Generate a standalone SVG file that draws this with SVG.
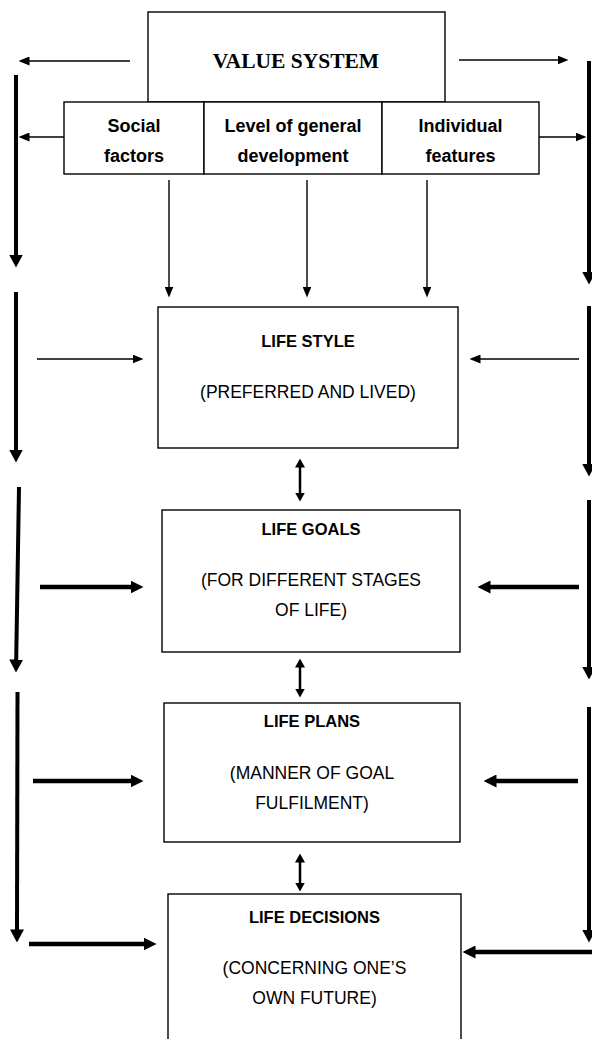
<svg xmlns="http://www.w3.org/2000/svg" width="592" height="1039" viewBox="0 0 592 1039">
<style>
.box{fill:#fff;stroke:#000;stroke-width:1.4}
.t{font-family:"Liberation Sans",Arial,sans-serif;font-size:17.5px;text-anchor:middle;fill:#000}
.b{font-weight:bold;font-size:16.5px}
.sb{font-weight:bold;font-size:18px}
.vs{font-family:"Liberation Serif","Times New Roman",serif;font-weight:bold;font-size:21.5px;text-anchor:middle}
.thin{stroke:#000;stroke-width:1.4;fill:none;marker-end:url(#ah-thin)}
.vert{stroke:#000;stroke-width:4;fill:none;marker-end:url(#ah-vert)}
.thick{stroke:#000;stroke-width:4.5;fill:none;marker-end:url(#ah-thick)}
.dbl{stroke:#000;stroke-width:2.5;fill:none;marker-start:url(#ah-dbl);marker-end:url(#ah-dbl)}
</style>
<defs>
<marker id="ah-thin" markerUnits="userSpaceOnUse" markerWidth="11" markerHeight="9" refX="0.5" refY="4.5" orient="auto"><path d="M0,0 L11,4.5 L0,9 z" fill="#000"/></marker>
<marker id="ah-vert" markerUnits="userSpaceOnUse" markerWidth="13" markerHeight="14" refX="0.5" refY="7" orient="auto"><path d="M0,0 L13,7 L0,14 z" fill="#000"/></marker>
<marker id="ah-thick" markerUnits="userSpaceOnUse" markerWidth="13" markerHeight="13" refX="0.5" refY="6.5" orient="auto"><path d="M0,0 L13,6.5 L0,13 z" fill="#000"/></marker>
<marker id="ah-dbl" markerUnits="userSpaceOnUse" markerWidth="9" markerHeight="10" refX="0.5" refY="5" orient="auto-start-reverse"><path d="M0,0 L9,5 L0,10 z" fill="#000"/></marker>
</defs>
<rect width="592" height="1039" fill="#fff"/>

<g id="value-system">
<rect class="box" x="148" y="12" width="297" height="90"/>
<text class="vs" x="296" y="68">VALUE SYSTEM</text>
</g>
<g id="social-factors">
<rect class="box" x="64" y="102" width="140" height="72"/>
<text class="t sb" x="134" y="132">Social</text>
<text class="t sb" x="134" y="162">factors</text>
</g>
<g id="general-development">
<rect class="box" x="204" y="102" width="178" height="72"/>
<text class="t sb" x="293" y="132">Level of general</text>
<text class="t sb" x="293" y="162">development</text>
</g>
<g id="individual-features">
<rect class="box" x="382" y="102" width="157" height="72"/>
<text class="t sb" x="460.5" y="132">Individual</text>
<text class="t sb" x="460.5" y="162">features</text>
</g>
<g id="life-style">
<rect class="box" x="158" y="307" width="300" height="141"/>
<text class="t b" x="308" y="347">LIFE STYLE</text>
<text class="t" x="308" y="398">(PREFERRED AND LIVED)</text>
</g>
<g id="life-goals">
<rect class="box" x="162" y="510" width="298" height="142"/>
<text class="t b" x="311" y="535">LIFE GOALS</text>
<text class="t" x="311" y="586">(FOR DIFFERENT STAGES</text>
<text class="t" x="311" y="616">OF LIFE)</text>
</g>
<g id="life-plans">
<rect class="box" x="164" y="703" width="296" height="139"/>
<text class="t b" x="312" y="727">LIFE PLANS</text>
<text class="t" x="312" y="779">(MANNER OF GOAL</text>
<text class="t" x="312" y="809">FULFILMENT)</text>
</g>
<g id="life-decisions">
<rect class="box" x="168" y="894" width="293" height="160"/>
<text class="t b" x="314.5" y="923">LIFE DECISIONS</text>
<text class="t" x="314.5" y="974">(CONCERNING ONE’S</text>
<text class="t" x="314.5" y="1004">OWN FUTURE)</text>
</g>

<g id="connectors">
<line class="thin" x1="130" y1="61" x2="29" y2="61"/>
<line class="thin" x1="459" y1="60" x2="558" y2="60"/>
<line class="thin" x1="64" y1="137" x2="29" y2="137"/>
<line class="thin" x1="539" y1="137" x2="576" y2="137"/>
<line class="thin" x1="169" y1="180" x2="169" y2="287"/>
<line class="thin" x1="307" y1="180" x2="307" y2="287"/>
<line class="thin" x1="427" y1="180" x2="427" y2="287"/>
<line class="thin" x1="37" y1="359" x2="133" y2="359"/>
<line class="thin" x1="579" y1="359" x2="480" y2="359"/>

<line class="vert" x1="16" y1="75" x2="16" y2="255"/>
<line class="vert" x1="16" y1="292" x2="16" y2="450"/>
<line class="vert" x1="19" y1="487" x2="16.2" y2="660"/>
<line class="vert" x1="17.5" y1="692" x2="17" y2="930"/>
<line class="vert" x1="589" y1="61" x2="589" y2="272"/>
<line class="vert" x1="589" y1="306" x2="589" y2="464"/>
<line class="vert" x1="589" y1="500" x2="589" y2="667"/>
<line class="vert" x1="589" y1="707" x2="589" y2="930"/>

<line class="thick" x1="40" y1="587" x2="131" y2="587"/>
<line class="thick" x1="579" y1="587" x2="490" y2="587"/>
<line class="thick" x1="33" y1="781" x2="131" y2="781"/>
<line class="thick" x1="578" y1="781" x2="496" y2="781"/>
<line class="thick" x1="29" y1="944" x2="144" y2="944"/>
<line class="thick" x1="592" y1="952" x2="475" y2="952"/>

<line class="dbl" x1="300" y1="467" x2="300" y2="493"/>
<line class="dbl" x1="300" y1="667" x2="300" y2="689"/>
<line class="dbl" x1="300" y1="862" x2="300" y2="883"/>
</g>
</svg>
